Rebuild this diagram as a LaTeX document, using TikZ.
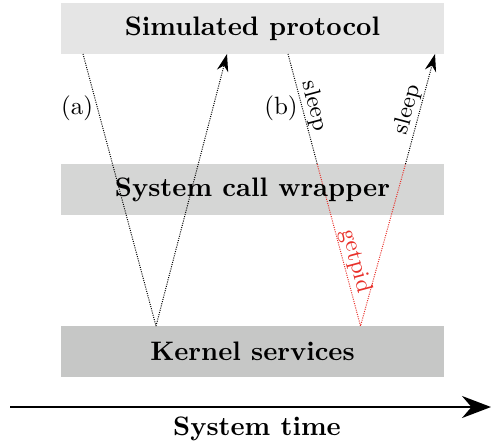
\documentclass[tikz,border=0pt]{standalone}
\usetikzlibrary{arrows.meta}
\definecolor{boxA}{HTML}{E5E5E5}
\definecolor{boxB}{HTML}{D5D6D5}
\definecolor{boxC}{HTML}{C6C7C6}
\definecolor{callred}{HTML}{E8302A}
\begin{document}
\begin{tikzpicture}[x=0.4pt,y=-0.4pt,
  layer/.style={minimum width=153.2pt,minimum height=20.4pt,inner sep=0pt},
  title/.style={font=\fontsize{10.7}{13}\selectfont\bfseries},
  flow/.style={line width=0.4pt,dash pattern=on 0.4pt off 0.5pt},
  tip/.style={-{Stealth[length=7pt,width=4.6pt]}},
  lbl/.style={sloped,above,inner sep=0.5pt,font=\fontsize{9.3}{11}\selectfont}]
\useasboundingbox (0,0) rectangle (491,447);
\node[layer,fill=boxA] (proto) at (252.5,28.5) {};
\node[layer,fill=boxB] (wrap) at (252.5,189.5) {};
\node[layer,fill=boxC] (kern) at (252.5,351.5) {};
% scenario (a)
\coordinate (a1) at (83,54);
\coordinate (a2) at (156,326);
\coordinate (a3) at (227,54);
\draw[flow] (a1) -- (a2);
\draw[flow,tip] (a2) -- (a3);
% scenario (b)
\coordinate (b1) at (288,54);
\coordinate (bm) at (317.2,164);
\coordinate (b2) at (360.5,326);
\coordinate (bn) at (405.5,164);
\coordinate (b3) at (435,54);
\draw[flow] (b1) -- node[lbl,pos=0.5] {sleep} (bm);
\draw[flow,callred] (bm) -- node[lbl,pos=0.62,text=callred] {getpid} (b2) -- (bn);
\draw[flow,tip] (bn) -- node[lbl,pos=0.47] {sleep} (b3);
\node[title] at (proto) {Simulated protocol};
\node[title] at (wrap) {System call wrapper};
\node[title] at (kern) {Kernel services};
\node (la) at (77,108) {(a)};
\node (lb) at (281,108) {(b)};
% time axis
\coordinate (t0) at (10,407);
\coordinate (t1) at (491,407);
\draw[line width=0.8pt,-{Stealth[length=11.6pt,width=8.8pt]}] (t0) -- (t1);
\node[title] (tt) at (257,429) {System time};
\end{tikzpicture}
\end{document}
